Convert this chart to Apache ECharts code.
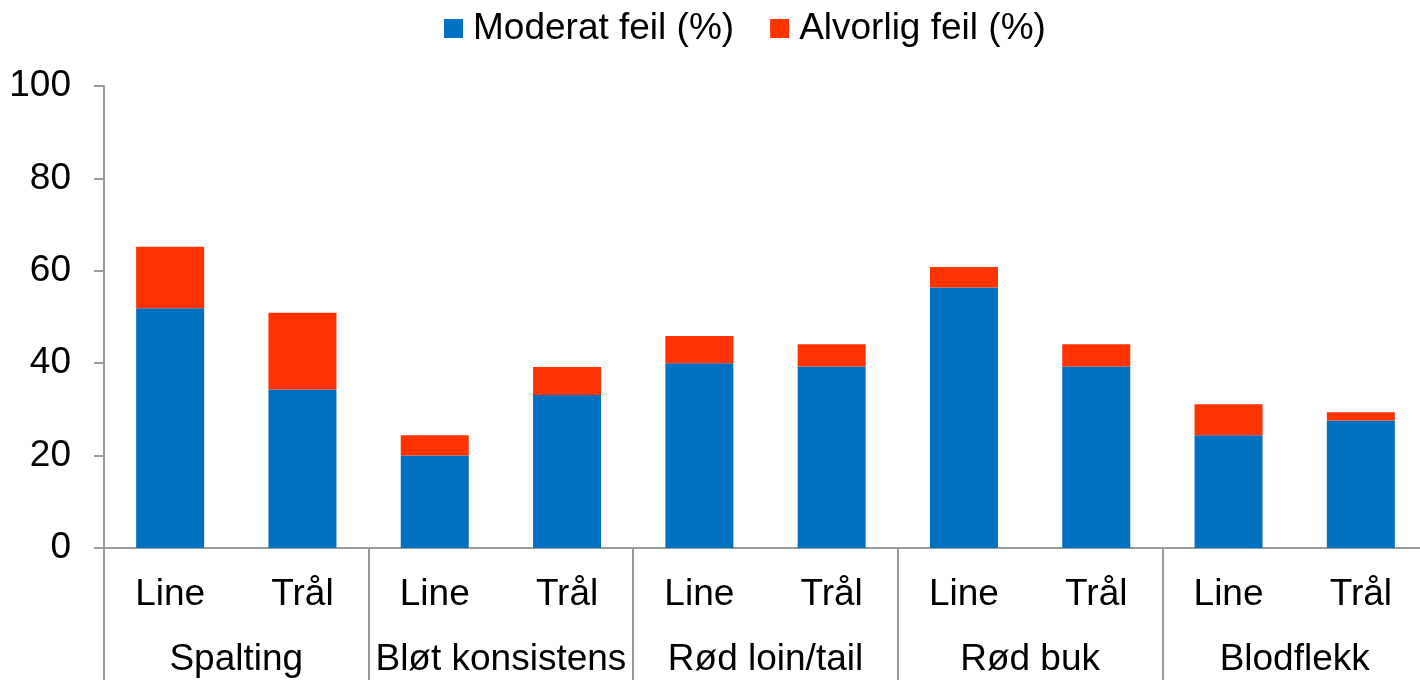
<!DOCTYPE html>
<html>
<head>
<meta charset="utf-8">
<title>Feil per fangstmetode</title>
<script src="https://cdn.jsdelivr.net/npm/echarts@6/dist/echarts.min.js"></script>
<style>
    html, body { margin: 0; padding: 0; background: #fff; }
    #main { width: 1420px; height: 680px; }
</style>
</head>
<body>
<div id="main"></div>
<script>
// data
var redskap = ['Line', 'Trål', 'Line', 'Trål', 'Line', 'Trål', 'Line', 'Trål', 'Line', 'Trål'];
var grupper = ['Spalting', 'Bløt konsistens', 'Rød loin/tail', 'Rød buk', 'Blodflekk'];
var moderat = [51.9, 34.3, 20.0, 33.1, 40.0, 39.3, 56.4, 39.3, 24.4, 27.6];
var alvorlig = [13.3, 16.6, 4.4, 6.1, 5.9, 4.8, 4.4, 4.8, 6.7, 1.8];
var yTicks = [0, 20, 40, 60, 80, 100];

var font = '"Liberation Sans", Arial, sans-serif';
var axisGray = '#9a9a9a';
var fs = 37;

var option = {
    animation: false,
    color: ['#0070C0', '#FF3300'],
    textStyle: {
        fontFamily: font
    },
    legend: {
        icon: 'rect',
        itemWidth: 19,
        itemHeight: 19,
        itemGap: 36,
        left: 439,
        top: 5,
        textStyle: {
            fontSize: fs,
            color: '#000',
            fontFamily: font,
            padding: [0, 0, 0, 5]
        },
        data: ['Moderat feil (%)', 'Alvorlig feil (%)']
    },
    grid: {
        outerBoundsMode: 'none',
        left: 104,
        top: 86,
        right: -7,
        height: 462
    },
    xAxis: [
        {
            type: 'category',
            data: redskap,
            axisLine: {
                show: true,
                lineStyle: { color: axisGray, width: 2 }
            },
            axisTick: { show: false },
            axisLabel: {
                interval: 0,
                margin: 28,
                fontSize: fs,
                color: '#000',
                fontFamily: font
            }
        }, {
            // group row under the first labels, ticks draw the dividers
            type: 'category',
            position: 'bottom',
            data: grupper,
            axisLine: { show: false },
            axisTick: {
                show: true,
                interval: 0,
                length: 140,
                lineStyle: { color: axisGray, width: 2 }
            },
            axisLabel: {
                interval: 0,
                margin: 93,
                fontSize: fs,
                color: '#000',
                fontFamily: font
            }
        }
    ],
    yAxis: {
        type: 'value',
        min: yTicks[0],
        max: yTicks[yTicks.length - 1],
        interval: 20,
        axisLine: {
            show: true,
            lineStyle: { color: axisGray, width: 2 }
        },
        axisTick: {
            show: true,
            length: 10,
            lineStyle: { color: axisGray, width: 2 }
        },
        splitLine: { show: false },
        axisLabel: {
            margin: 33,
            fontSize: fs,
            color: '#000',
            fontFamily: font
        }
    },
    series: [
        {
            name: 'Moderat feil (%)',
            type: 'bar',
            stack: 'feil',
            barWidth: 68,
            data: moderat
        }, {
            name: 'Alvorlig feil (%)',
            type: 'bar',
            stack: 'feil',
            barWidth: 68,
            data: alvorlig
        }
    ]
};

var myChart = echarts.init(document.getElementById('main'));
myChart.setOption(option);
</script>
</body>
</html>
